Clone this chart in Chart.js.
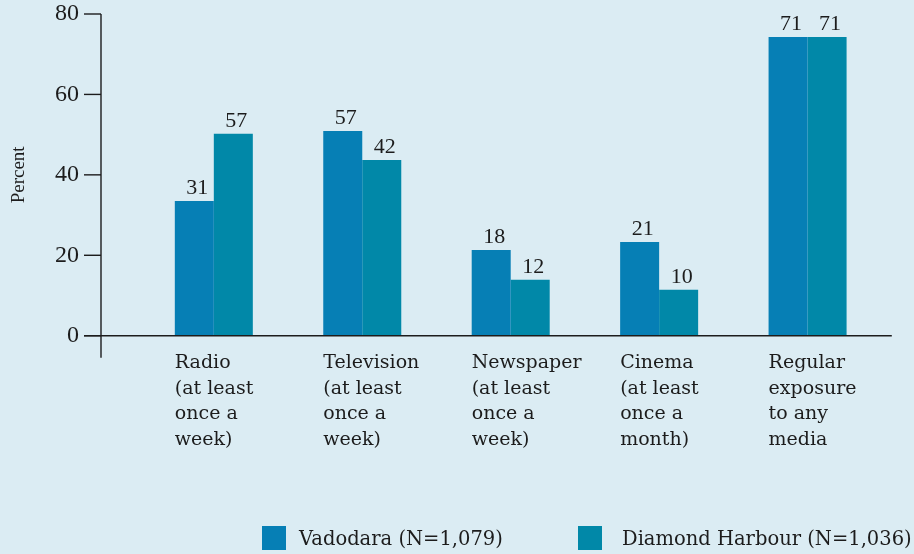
<!DOCTYPE html>
<html><head><meta charset="utf-8">
<script src="https://cdn.jsdelivr.net/npm/chart.js@4.4.1/dist/chart.umd.min.js"></script>
<style>html,body{margin:0;padding:0;background:#DBECF3;}</style>
</head><body>
<canvas id="c" width="914" height="554" style="width:914px;height:554px;display:block"></canvas>
<script>
// ---- data ----
const categories = [
  ["Radio", "(at least", "once a", "week)"],
  ["Television", "(at least", "once a", "week)"],
  ["Newspaper", "(at least", "once a", "week)"],
  ["Cinema", "(at least", "once a", "month)"],
  ["Regular", "exposure", "to any", "media"]
];
const seriesNames = ["Vadodara (N=1,079)", "Diamond Harbour (N=1,036)"];
// bar heights as drawn in the picture
const vadodara = [33.5, 50.9, 21.3, 23.3, 74.3];
const diamondHarbour = [50.2, 43.7, 13.9, 11.4, 74.3];
// numbers printed above the bars
const vadodaraLabels = ["31", "57", "18", "21", "71"];
const diamondHarbourLabels = ["57", "42", "12", "10", "71"];
const yTickValues = [0, 20, 40, 60, 80];
const yAxisTitle = "Percent";

const seriesColors = ["#067FB5", "#0188A8"];
const INK = "#1c1c1c";

const bgPlugin = {
  id: 'bg',
  beforeDraw(chart) {
    const ctx = chart.ctx;
    ctx.save();
    ctx.fillStyle = '#DBECF3';
    ctx.fillRect(0, 0, chart.width, chart.height);
    ctx.restore();
  }
};

const axesPlugin = {
  id: 'axesLines',
  afterDatasetsDraw(chart) {
    const ctx = chart.ctx;
    const y = chart.scales.y;
    const area = chart.chartArea;
    const axisX = area.left - 38.6;
    ctx.save();
    ctx.strokeStyle = INK;
    ctx.lineWidth = 1.4;
    ctx.beginPath();
    ctx.moveTo(axisX, y.getPixelForValue(80));
    ctx.lineTo(axisX, y.getPixelForValue(0) + 22);
    ctx.stroke();
    yTickValues.forEach(v => {
      const py = y.getPixelForValue(v);
      ctx.beginPath();
      ctx.moveTo(axisX - 17, py);
      ctx.lineTo(axisX, py);
      ctx.stroke();
    });
    const y0 = y.getPixelForValue(0);
    ctx.beginPath();
    ctx.moveTo(axisX - 17, y0);
    ctx.lineTo(area.right + 10, y0);
    ctx.stroke();
    ctx.restore();
  }
};

const valueLabelPlugin = {
  id: 'valueLabels',
  afterDatasetsDraw(chart) {
    const ctx = chart.ctx;
    const texts = [vadodaraLabels, diamondHarbourLabels];
    ctx.save();
    ctx.font = '22px "Liberation Serif"';
    ctx.fillStyle = INK;
    ctx.textAlign = 'center';
    ctx.textBaseline = 'alphabetic';
    chart.data.datasets.forEach((ds, di) => {
      const meta = chart.getDatasetMeta(di);
      meta.data.forEach((bar, i) => {
        ctx.fillText(texts[di][i], bar.x + 3, bar.y - 7);
      });
    });
    ctx.restore();
  }
};

const legendPlugin = {
  id: 'customLegend',
  afterDraw(chart) {
    const ctx = chart.ctx;
    const items = [
      { box: 262, text: 299 },
      { box: 578, text: 622 }
    ];
    ctx.save();
    ctx.font = '19.5px "DejaVu Serif"';
    ctx.textBaseline = 'middle';
    ctx.textAlign = 'left';
    items.forEach((it, i) => {
      ctx.fillStyle = seriesColors[i];
      ctx.fillRect(it.box, 526, 24, 24);
      ctx.fillStyle = INK;
      ctx.fillText(seriesNames[i], it.text, 540);
    });
    ctx.restore();
  }
};

new Chart(document.getElementById('c'), {
  type: 'bar',
  data: {
    labels: categories,
    datasets: [
      { label: seriesNames[0], data: vadodara, backgroundColor: seriesColors[0], borderWidth: 0 },
      { label: seriesNames[1], data: diamondHarbour, backgroundColor: seriesColors[1], borderWidth: 0 }
    ]
  },
  options: {
    responsive: false,
    animation: false,
    devicePixelRatio: 1,
    layout: { padding: { top: 14, left: 0, right: 32.2, bottom: 96.9 } },
    plugins: { legend: { display: false }, tooltip: { enabled: false } },
    datasets: { bar: { categoryPercentage: 0.5255, barPercentage: 1.0 } },
    scales: {
      x: {
        type: 'category',
        offset: true,
        grid: { display: false, drawTicks: false },
        border: { display: false },
        ticks: {
          autoSkip: false, maxRotation: 0, minRotation: 0,
          align: 'start', labelOffset: -39,
          padding: 15,
          color: INK,
          font: { family: '"DejaVu Serif"', size: 19, lineHeight: 1.342 }
        },
        afterFit(scale) { scale.height = 121.4; scale.paddingLeft = 0; scale.paddingRight = 0; }
      },
      y: {
        min: 0, max: 80,
        grid: { display: false, drawTicks: false },
        border: { display: false },
        ticks: {
          stepSize: 20,
          padding: 60.6,
          color: INK,
          font: { family: '"Liberation Serif"', size: 24, lineHeight: 1.0 }
        },
        title: {
          display: true, text: yAxisTitle, color: INK,
          padding: { top: 8, bottom: 0 },
          font: { family: '"Liberation Serif"', size: 19 }
        },
        afterFit(scale) { scale.width = 139.6; scale.paddingTop = 0; scale.paddingBottom = 0; }
      }
    }
  },
  plugins: [bgPlugin, axesPlugin, valueLabelPlugin, legendPlugin]
});
</script>
</body></html>
